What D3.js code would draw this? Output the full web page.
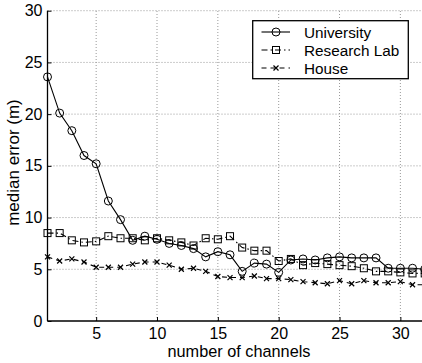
<!DOCTYPE html>
<html>
<head>
<meta charset="utf-8">
<script src="https://cdn.jsdelivr.net/npm/d3@7"></script>
<style>
  html, body { margin: 0; padding: 0; background: #fff; }
  svg { display: block; font-family: "Liberation Sans", Arial, sans-serif; }
</style>
</head>
<body>
<svg id="chart" width="422" height="363"></svg>
<script>
// median error vs number of channels, three sites
const channels = d3.range(1, 33);
const university = [23.6, 20.1, 18.4, 16.0, 15.2, 11.6, 9.8, 7.8, 8.2, 7.9, 7.5, 7.3, 7.0, 6.2, 6.7, 6.4,
  4.8, 5.6, 5.5, 4.7, 5.9, 6.0, 5.9, 6.1, 6.2, 6.1, 6.1, 6.1, 5.1, 5.1, 5.1, 5.0];
const researchLab = [8.5, 8.5, 7.8, 7.6, 7.7, 8.2, 8.0, 8.0, 7.8, 8.0, 7.8, 7.6, 7.3, 8.0, 7.9, 8.2,
  7.1, 6.8, 6.8, 5.8, 6.0, 5.4, 5.6, 5.5, 5.4, 5.3, 5.1, 4.8, 4.8, 4.7, 4.6, 4.6];
const house = [6.2, 5.8, 6.0, 5.7, 5.2, 5.2, 5.2, 5.5, 5.7, 5.7, 5.4, 5.0, 5.1, 4.8, 4.3, 4.2,
  4.2, 4.35, 4.1, 4.1, 4.0, 3.8, 3.7, 3.6, 3.9, 3.6, 3.9, 3.7, 3.7, 3.8, 3.5, 3.5];
const xTicks = [5, 10, 15, 20, 25, 30];
const yTicks = [0, 5, 10, 15, 20, 25, 30];

const series = [
  { name: 'University', values: university, dash: null, marker: 'circle' },
  { name: 'Research Lab', values: researchLab, dash: '6,3,1.5,3', marker: 'square' },
  { name: 'House', values: house, dash: '5,4', marker: 'cross' },
];

const svg = d3.select('#chart');
const x = d3.scaleLinear().domain([1, 32]).range([47.5, 424.7]);
const y = d3.scaleLinear().domain([0, 30]).range([321, 10.7]);

const plot = svg.append('g');

// dotted grid
plot.append('g').selectAll('line.gx').data(xTicks).join('line')
  .attr('x1', d => x(d)).attr('x2', d => x(d)).attr('y1', y(0)).attr('y2', y(30))
  .attr('stroke', '#999').attr('stroke-width', 1).attr('stroke-dasharray', '1,2');
plot.append('g').selectAll('line.gy').data(yTicks.filter(d => d > 0)).join('line')
  .attr('x1', x(1)).attr('x2', x(32)).attr('y1', d => y(d)).attr('y2', d => y(d))
  .attr('stroke', '#999').attr('stroke-width', 1).attr('stroke-dasharray', '1,2');

// axes
const xAxis = svg.append('g').attr('transform', `translate(0,${y(0)})`)
  .call(d3.axisBottom(x).tickValues(xTicks).tickSize(-4).tickPadding(7));
const yAxis = svg.append('g').attr('transform', `translate(${x(1)},0)`)
  .call(d3.axisLeft(y).tickValues(yTicks).tickSize(-4).tickPadding(5));
[xAxis, yAxis].forEach(a => {
  a.select('.domain').attr('stroke', '#000').attr('stroke-width', 1.3);
  a.selectAll('.tick line').attr('stroke', '#000');
  a.selectAll('.tick text').attr('font-size', 16).attr('fill', '#000')
    .attr('font-family', '"Liberation Sans", Arial, sans-serif');
});
xAxis.select('.domain').attr('d', `M${x(1)},0H${x(32)}`);
yAxis.select('.domain').attr('d', `M0,${y(0)}V${y(30)}`);

// lines + markers
const line = d3.line().x((d, i) => x(channels[i])).y(d => y(d));

function drawMarker(g, type, cx, cy) {
  if (type === 'circle') {
    g.append('circle').attr('cx', cx).attr('cy', cy).attr('r', 4)
      .attr('fill', 'none').attr('stroke', '#000').attr('stroke-width', 1);
  } else if (type === 'square') {
    g.append('rect').attr('x', cx - 3.5).attr('y', cy - 3.5).attr('width', 7).attr('height', 7)
      .attr('fill', 'none').attr('stroke', '#000').attr('stroke-width', 1);
  } else {
    const s = 2.5;
    g.append('path').attr('d', `M${cx - s},${cy - s}L${cx + s},${cy + s}M${cx - s},${cy + s}L${cx + s},${cy - s}`)
      .attr('stroke', '#000').attr('stroke-width', 1.2);
  }
}

series.forEach(s => {
  plot.append('path').datum(s.values).attr('d', line)
    .attr('fill', 'none').attr('stroke', '#000').attr('stroke-width', 1.1)
    .attr('stroke-dasharray', s.dash);
  const mg = plot.append('g');
  s.values.forEach((v, i) => drawMarker(mg, s.marker, x(channels[i]), y(v)));
});

// legend
const lg = svg.append('g');
lg.append('rect').attr('x', 252.7).attr('y', 20.7).attr('width', 155.6).attr('height', 58)
  .attr('fill', '#fff').attr('stroke', '#000').attr('stroke-width', 1.3);
series.forEach((s, i) => {
  const ly = 32 + i * 18;
  lg.append('line').attr('x1', 261.5).attr('x2', 290).attr('y1', ly).attr('y2', ly)
    .attr('stroke', '#000').attr('stroke-width', 1.1).attr('stroke-dasharray', s.dash);
  drawMarker(lg, s.marker, 276, ly);
  lg.append('text').attr('x', 304).attr('y', ly + 5.5).attr('font-size', 15.3).text(s.name);
});

// axis titles
svg.append('text').attr('x', 239).attr('y', 357).attr('text-anchor', 'middle')
  .attr('font-size', 16.3).text('number of channels');
svg.append('text').attr('transform', 'translate(18.5,162.5) rotate(-90)').attr('text-anchor', 'middle')
  .attr('font-size', 17).text('median error (m)');
</script>
</body>
</html>
